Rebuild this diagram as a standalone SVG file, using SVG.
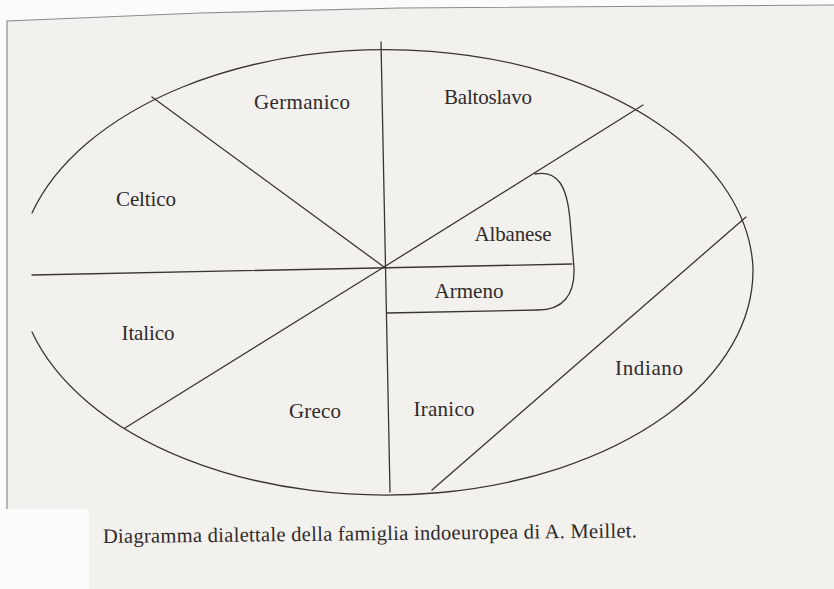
<svg xmlns="http://www.w3.org/2000/svg" width="834" height="589" viewBox="0 0 834 589">
<style>
.ln{fill:none;stroke:#3b3434;stroke-width:1.3;stroke-linecap:round;stroke-linejoin:round}
.lb{font-family:"Liberation Serif","DejaVu Serif",serif;font-size:21px;fill:#2f2a2a}
.cap{font-family:"Liberation Serif","DejaVu Serif",serif;font-size:20.5px;fill:#2f2a2a}
</style>
<rect x="0" y="0" width="834" height="589" fill="#fbfbfc"/>
<path d="M7,21 L200,13 L400,8 L834,5 L834,589 L89,589 L89,509 L7,509 Z" fill="#f3f1ee"/>
<path d="M7,509 L7,21 L200,13 L400,8 L834,5" fill="none" stroke="#8d8a90" stroke-width="1.2"/>
<g id="connectors">
<path class="ln" d="M32,213 A367.6,225 0 0 1 753,268 A367.6,225 0 0 1 32,332"/>
<line class="ln" x1="381" y1="42" x2="390" y2="492"/>
<line class="ln" x1="152" y1="97" x2="384" y2="267"/>
<line class="ln" x1="32" y1="275" x2="572" y2="264"/>
<line class="ln" x1="125" y1="428" x2="384" y2="267"/>
<line class="ln" x1="384" y1="267" x2="643" y2="105"/>
<line class="ln" x1="746" y1="217" x2="432" y2="490"/>
<path class="ln" d="M535,174 C558,170 567,186 570,220 L574,268 C575,296 562,310 538,310 L387,313"/>
</g>
<g id="germanico"><text class="lb" x="302" y="109" text-anchor="middle" textLength="96">Germanico</text></g>
<g id="baltoslavo"><text class="lb" x="488" y="104" text-anchor="middle" textLength="88">Baltoslavo</text></g>
<g id="celtico"><text class="lb" x="146" y="206" text-anchor="middle" textLength="60">Celtico</text></g>
<g id="albanese"><text class="lb" x="513" y="241" text-anchor="middle" textLength="77">Albanese</text></g>
<g id="armeno"><text class="lb" x="469" y="298" text-anchor="middle" textLength="69">Armeno</text></g>
<g id="italico"><text class="lb" x="148" y="340" text-anchor="middle" textLength="53">Italico</text></g>
<g id="greco"><text class="lb" x="315" y="418" text-anchor="middle" textLength="52">Greco</text></g>
<g id="iranico"><text class="lb" x="444" y="416" text-anchor="middle" textLength="61">Iranico</text></g>
<g id="indiano"><text class="lb" x="649" y="375" text-anchor="middle" textLength="68">Indiano</text></g>
<g id="caption"><text class="cap" x="103" y="543" textLength="534" transform="rotate(-0.6 103 543)">Diagramma dialettale della famiglia indoeuropea di A. Meillet.</text></g>
</svg>
